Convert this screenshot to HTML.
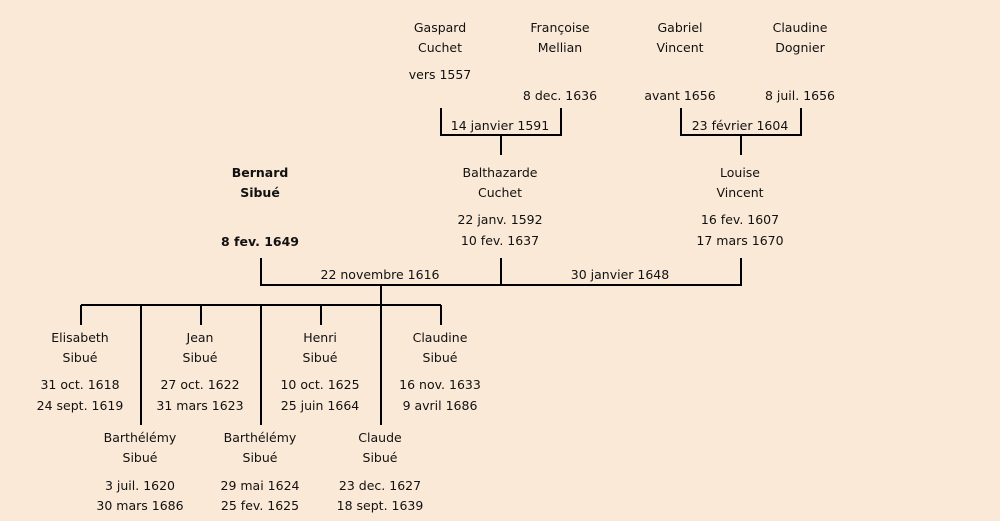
<!DOCTYPE html>
<html><head><meta charset="utf-8"><style>
html,body{margin:0;padding:0;background:#fbe9d7;}
svg{display:block}
text{font-family:"Comic Sans MS","DejaVu Sans","Liberation Sans",sans-serif;font-size:12.5px;fill:#111;text-anchor:middle;dominant-baseline:middle}
.b{font-weight:bold}
</style></head><body>
<svg width="1000" height="521" viewBox="0 0 1000 521">
<rect width="1000" height="521" fill="#fbe9d7"/>
<g stroke="#000" stroke-width="2" fill="none">
<path d="M441 108V135H561V108M501 135V155"/>
<path d="M681 108V135H801V108M741 135V155"/>
<path d="M261 258V285H741V258M501 258V285M381 285V305M81 305H441"/>
<path d="M81 305V325M201 305V325M321 305V325M441 305V325M141 305V425M261 305V425M381 305V425"/>
</g>
<g transform="translate(0,1.5)">
<text x="440" y="27">Gaspard</text><text x="440" y="47">Cuchet</text><text x="440" y="74">vers 1557</text>
<text x="560" y="27">Françoise</text><text x="560" y="47">Mellian</text><text x="560" y="95">8 dec. 1636</text>
<text x="680" y="27">Gabriel</text><text x="680" y="47">Vincent</text><text x="680" y="95">avant 1656</text>
<text x="800" y="27">Claudine</text><text x="800" y="47">Dognier</text><text x="800" y="95">8 juil. 1656</text>
<text x="500" y="125">14 janvier 1591</text><text x="740" y="125">23 février 1604</text>
<text class="b" x="260" y="172">Bernard</text><text class="b" x="260" y="192">Sibué</text><text class="b" x="260" y="241">8 fev. 1649</text>
<text x="500" y="172">Balthazarde</text><text x="500" y="192">Cuchet</text><text x="500" y="219">22 janv. 1592</text><text x="500" y="240">10 fev. 1637</text>
<text x="740" y="172">Louise</text><text x="740" y="192">Vincent</text><text x="740" y="219">16 fev. 1607</text><text x="740" y="240">17 mars 1670</text>
<text x="380" y="274">22 novembre 1616</text><text x="620" y="274">30 janvier 1648</text>
<text x="80" y="337">Elisabeth</text><text x="80" y="357">Sibué</text><text x="80" y="384">31 oct. 1618</text><text x="80" y="405">24 sept. 1619</text>
<text x="200" y="337">Jean</text><text x="200" y="357">Sibué</text><text x="200" y="384">27 oct. 1622</text><text x="200" y="405">31 mars 1623</text>
<text x="320" y="337">Henri</text><text x="320" y="357">Sibué</text><text x="320" y="384">10 oct. 1625</text><text x="320" y="405">25 juin 1664</text>
<text x="440" y="337">Claudine</text><text x="440" y="357">Sibué</text><text x="440" y="384">16 nov. 1633</text><text x="440" y="405">9 avril 1686</text>
<text x="140" y="437">Barthélémy</text><text x="140" y="457">Sibué</text><text x="140" y="485">3 juil. 1620</text><text x="140" y="505">30 mars 1686</text>
<text x="260" y="437">Barthélémy</text><text x="260" y="457">Sibué</text><text x="260" y="485">29 mai 1624</text><text x="260" y="505">25 fev. 1625</text>
<text x="380" y="437">Claude</text><text x="380" y="457">Sibué</text><text x="380" y="485">23 dec. 1627</text><text x="380" y="505">18 sept. 1639</text>
</g>
</svg>
</body></html>
